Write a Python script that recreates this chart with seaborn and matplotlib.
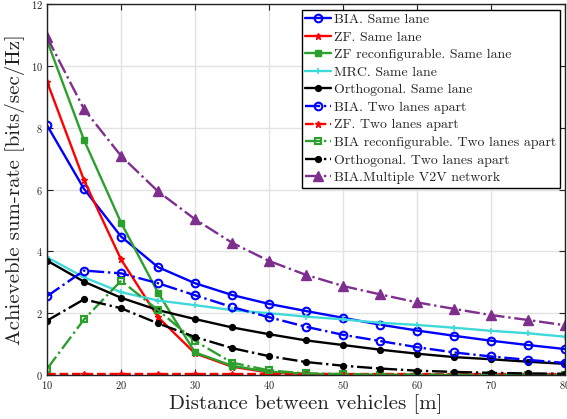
import numpy as np
import pandas as pd
import matplotlib
matplotlib.use("Agg")
import matplotlib.pyplot as plt
import seaborn as sns

distance = [10, 15, 20, 25, 30, 35, 40, 45, 50, 55, 60, 65, 70, 75, 80]

bia_same = [8.08, 6.02, 4.48, 3.49, 2.97, 2.59, 2.30, 2.07, 1.85, 1.63, 1.44, 1.27, 1.11, 0.97, 0.84]
zf_same = [9.49, 6.30, 3.74, 1.87, 0.70, 0.27, 0.08, 0.03, 0.01, 0.0, 0.0, 0.0, 0.0, 0.0, 0.0]
zf_reconf_same = [10.82, 7.60, 4.93, 2.66, 0.73, 0.30, 0.10, 0.04, 0.02, 0.01, 0.01, 0.0, 0.0, 0.0, 0.0]
mrc_same = [3.81, 3.16, 2.68, 2.41, 2.26, 2.10, 2.00, 1.89, 1.80, 1.69, 1.62, 1.53, 1.43, 1.35, 1.24]
orth_same = [3.70, 3.02, 2.50, 2.10, 1.81, 1.54, 1.32, 1.12, 0.97, 0.82, 0.69, 0.58, 0.51, 0.43, 0.36]
bia_two = [2.55, 3.38, 3.29, 2.97, 2.58, 2.20, 1.87, 1.56, 1.30, 1.10, 0.90, 0.73, 0.60, 0.49, 0.39]
zf_two = [0.02, 0.02, 0.02, 0.02, 0.02, 0.02, 0.02, 0.02, 0.02, 0.02, 0.02, 0.02, 0.02, 0.02, 0.02]
bia_reconf_two = [0.20, 1.80, 3.05, 2.10, 1.10, 0.40, 0.15, 0.05, 0.03, 0.01, 0.01, 0.01, 0.0, 0.0, 0.0]
orth_two = [1.76, 2.45, 2.16, 1.67, 1.23, 0.87, 0.61, 0.42, 0.30, 0.21, 0.14, 0.10, 0.07, 0.05, 0.04]
bia_multi = [10.93, 8.60, 7.09, 5.94, 5.04, 4.28, 3.69, 3.24, 2.88, 2.61, 2.35, 2.14, 1.94, 1.78, 1.61]

labels = [
    "BIA. Same lane", "ZF. Same lane", "ZF reconfigurable. Same lane",
    "MRC. Same lane", "Orthogonal. Same lane", "BIA. Two lanes apart",
    "ZF. Two lanes apart", "BIA reconfigurable. Two lanes apart",
    "Orthogonal. Two lanes apart", "BIA.Multiple V2V network",
]
series = [bia_same, zf_same, zf_reconf_same, mrc_same, orth_same,
          bia_two, zf_two, bia_reconf_two, orth_two, bia_multi]

blue = "#0000ff"; red = "#ff0000"; green = "#2ca02c"; cyan = "#40d9d9"
black = "#000000"; purple = "#7e2f8e"
styles = [
    dict(color=blue, linestyle="-", marker="o", mfc="none", ms=5.5, mew=1.5),
    dict(color=red, linestyle="-", marker="*", ms=5, mew=1),
    dict(color=green, linestyle="-", marker="s", ms=4.5, mew=1),
    dict(color=cyan, linestyle="-", marker="+", ms=5, mew=1.2),
    dict(color=black, linestyle="-", marker="o", ms=4.2, mew=1),
    dict(color=blue, linestyle="-.", marker="o", mfc="none", ms=5.5, mew=1.5),
    dict(color=red, linestyle="--", marker="*", ms=5, mew=1),
    dict(color=green, linestyle="-.", marker="s", mfc="none", ms=4.5, mew=1.5),
    dict(color=black, linestyle="-.", marker="o", ms=4.2, mew=1),
    dict(color=purple, linestyle="-.", marker="^", ms=6.5, mew=1),
]

sns.set_style("whitegrid")
plt.rcParams["font.family"] = ["cmr10", "DejaVu Serif"]
plt.rcParams["mathtext.fontset"] = "cm"
plt.rcParams["axes.formatter.use_mathtext"] = True

fig = plt.figure(figsize=(5.67, 4.19), dpi=100)
ax = fig.add_axes([0.083, 0.105, 0.9135, 0.885])

for y, lab, st in zip(series, labels, styles):
    df = pd.DataFrame({"x": distance, "y": y})
    sns.lineplot(data=df, x="x", y="y", ax=ax, label=lab, lw=1.7,
                 mec=st["color"], **st)

ax.set_xlim(10, 80)
ax.set_ylim(0, 12)
ax.set_xticks(range(10, 81, 10))
ax.set_yticks(range(0, 13, 2))
ax.grid(True, color="#e3e3e3", lw=1)
for sp in ax.spines.values():
    sp.set_color("#222222")
    sp.set_linewidth(1)
ax.tick_params(direction="in", length=4, labelsize=7.5, colors="#222222",
               top=True, right=True, bottom=True, left=True, pad=3)
ax.set_xlabel("Distance between vehicles [m]", fontsize=15, color="#222222", labelpad=2)
ax.set_ylabel("Achieveble sum-rate [bits/sec/Hz]", fontsize=15, color="#222222", labelpad=4)

leg = ax.legend(loc="upper right", bbox_to_anchor=(0.99, 0.985), fontsize=10,
                frameon=True, fancybox=False, edgecolor="black", framealpha=1,
                handlelength=1.9, handletextpad=0.2, borderpad=0.25,
                labelspacing=0.35, borderaxespad=0)
leg.get_frame().set_linewidth(1)

fig.savefig("out.png", dpi=100)
